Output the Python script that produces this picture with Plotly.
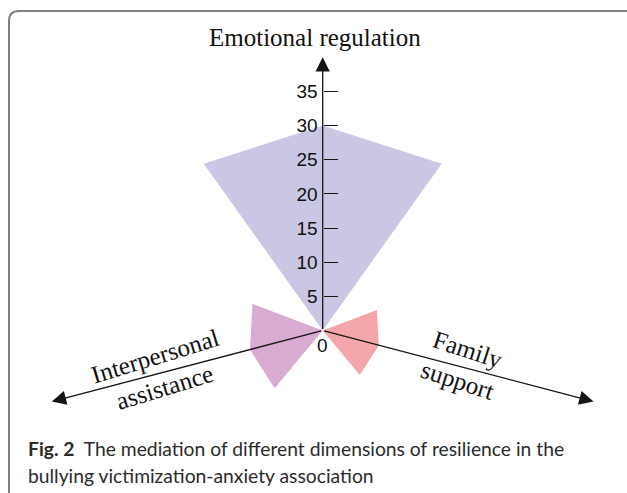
import math
import plotly.graph_objects as go

# ---- data ----
dimensions = ["Emotional regulation", "Interpersonal assistance", "Family support"]
axis_titles = ["Emotional regulation", "Interpersonal<br>assistance", "Family<br>support"]
values = [30, 11, 8.5]
axis_angles = [90, 194.7, -14.7]      # direction of each dimension axis (degrees)
axis_lengths = [40, 41, 41]
fan_colors = ["#c9c7e3", "#d9abd3", "#f4a6ab"]
tick_vals = [5, 10, 15, 20, 25, 30, 35]
tick_text = [str(t) for t in tick_vals]
caption_bold = "Fig. 2"
caption_line1 = "The mediation of different dimensions of resilience in the"
caption_line2 = "bullying victimization-anxiety association"

HALF = 35.5  # half opening angle of each fan (degrees)

W, H = 627, 493
PX = 6.83            # pixels per unit
OX, OY = 322.7, 330.5  # origin in pixels
xr = [-OX / PX, (W - OX) / PX]
yr = [-(H - OY) / PX, OY / PX]


def pol(r, deg):
    t = math.radians(deg)
    return r * math.cos(t), r * math.sin(t)


fig = go.Figure()

for name, v, a, c in zip(dimensions, values, axis_angles, fan_colors):
    pts = [(0, 0)] + [pol(v, a + d) for d in (-HALF, 0, HALF)] + [(0, 0)]
    fig.add_trace(go.Scatter(
        x=[p[0] for p in pts], y=[p[1] for p in pts],
        mode="lines", fill="toself", fillcolor=c,
        line=dict(width=0, color=c), name=name, hoverinfo="name",
        showlegend=False,
    ))

# axes with arrowheads
for a, L in zip(axis_angles, axis_lengths):
    tx, ty = pol(L, a)
    fig.add_annotation(
        x=tx, y=ty, ax=0, ay=0, xref="x", yref="y", axref="x", ayref="y",
        text="", showarrow=True, arrowhead=2, arrowsize=2.2, arrowwidth=1.3,
        arrowcolor="#151515", standoff=0, startstandoff=0,
    )

# origin label
fig.add_annotation(x=0, y=0, xref="x", yref="y", text="0", showarrow=False,
                   yshift=-15, font=dict(family="Liberation Sans, Arial", size=19, color="#111"))

serif = dict(family="Liberation Serif, Times New Roman, serif", size=25, color="#111")
fig.add_annotation(x=315 / W, y=1 - 38 / H, xref="paper", yref="paper",
                   text=axis_titles[0], showarrow=False, font=serif,
                   xanchor="center", yanchor="middle")
fig.add_annotation(x=160 / W, y=1 - 372 / H, xref="paper", yref="paper",
                   text=axis_titles[1], showarrow=False, font=serif, textangle=-17,
                   xanchor="center", yanchor="middle")
fig.add_annotation(x=462 / W, y=1 - 365 / H, xref="paper", yref="paper",
                   text=axis_titles[2], showarrow=False, font=serif, textangle=18,
                   xanchor="center", yanchor="middle")

cap_font = dict(family="Lato, Open Sans, sans-serif", size=19.3, color="#2b2b2b")
fig.add_annotation(x=26 / W, y=1 - 448 / H, xref="paper", yref="paper",
                   text=f"<b>{caption_bold}</b>  {caption_line1}", showarrow=False,
                   font=cap_font, xanchor="left", yanchor="middle")
fig.add_annotation(x=26 / W, y=1 - 475 / H, xref="paper", yref="paper",
                   text=caption_line2, showarrow=False,
                   font=cap_font, xanchor="left", yanchor="middle")

# frame
x0 = 9 / W
yt = 1 - 11 / H
fig.add_shape(type="path", xref="paper", yref="paper",
              path=f"M {x0},0 L {x0},{1 - 21 / H} Q {x0},{yt} {19 / W},{yt} L 1,{yt}",
              line=dict(color="#808080", width=2))

fig.update_layout(
    width=W, height=H, margin=dict(l=0, r=0, t=0, b=0),
    paper_bgcolor="white", plot_bgcolor="white", showlegend=False,
    xaxis=dict(range=xr, visible=False, fixedrange=True),
    yaxis=dict(range=yr, anchor="free", position=OX / W, side="left",
               tickvals=tick_vals, ticktext=tick_text, ticks="inside",
               ticklen=14, tickwidth=1.3, tickcolor="#151515", ticklabelstandoff=5,
               showline=False, showgrid=False, zeroline=False, fixedrange=True,
               tickfont=dict(family="Liberation Sans, Arial", size=19, color="#111")),
)

fig.write_html("out.html", config={"displayModeBar": False},
               post_script="document.body.style.margin='0';document.body.style.overflow='hidden';")
